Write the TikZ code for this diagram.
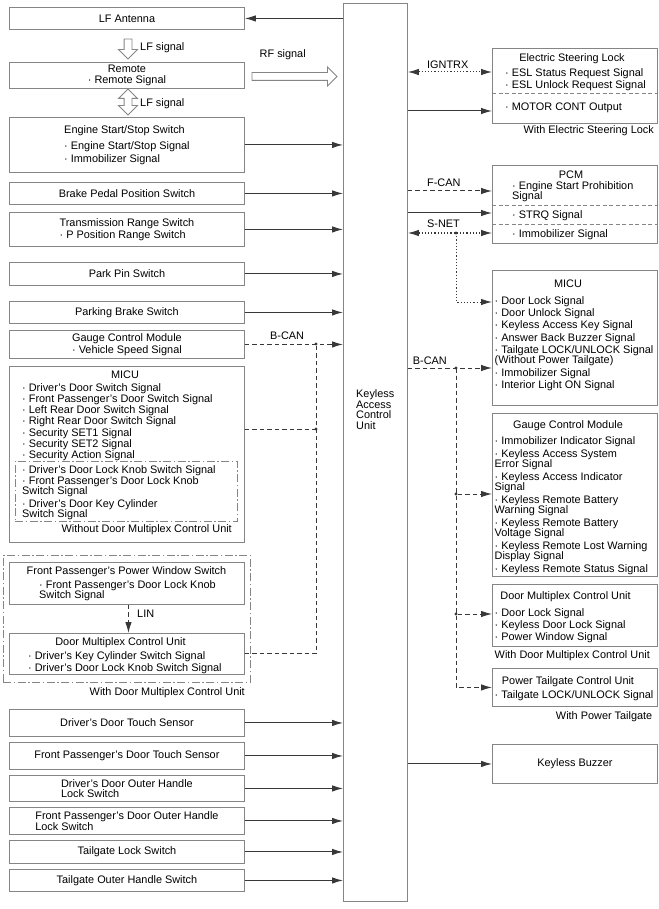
\documentclass[tikz,border=0pt]{standalone}
\usepackage{fontspec}
\setmainfont{Liberation Sans}
\usetikzlibrary{arrows.meta,shapes.arrows}
\definecolor{boxgray}{HTML}{858585}
\definecolor{linegray}{HTML}{383838}
\begin{document}
\begin{tikzpicture}[
    x=1pt, y=-1pt,
    >={Latex[length=11pt,width=6.5pt]},
    every node/.style={font=\fontsize{10.9}{10.3}\selectfont, inner sep=0pt},
    unit/.style    = {draw=boxgray, line width=0.9pt, anchor=north west, minimum height=#1},
    lbox/.style    = {unit=#1, minimum width=235pt, align=left},
    rbox/.style    = {unit=#1, minimum width=165pt},
    grp/.style     = {draw=boxgray, line width=0.9pt, anchor=north west,
                      dash pattern=on 8pt off 2.5pt on 1.5pt off 2.5pt},
    txt/.style     = {align=left},
    divider/.style = {draw=boxgray, line width=0.9pt, dash pattern=on 4pt off 2.5pt},
    hollow/.style  = {draw=boxgray, line width=0.9pt, fill=white,
                      inner xsep=0pt, inner ysep=3.5pt},
    sig/.style     = {draw=linegray, line width=1pt},
    bus/.style     = {sig, dash pattern=on 4.5pt off 3pt},
    dotline/.style = {sig, dash pattern=on 1.2pt off 2pt},
  ]
  \useasboundingbox (0,0) rectangle (658,909);

  % left column
  \node[lbox=22] (lfant) at (9,7) {LF Antenna};
  \node[lbox=26, align=center] (remote) at (9,62) {Remote\\· Remote Signal};
  \node[lbox=55] (engine) at (9,117)
    {Engine Start/Stop Switch\\[5.7pt]· Engine Start/Stop Signal\\[2.7pt]· Immobilizer Signal};
  \node[lbox=22] (brake) at (9,182) {Brake Pedal Position Switch};
  \node[lbox=34] (trans) at (9,212) {Transmission Range Switch\\[1.7pt]· P Position Range Switch};
  \node[lbox=23] (parkpin) at (9,262) {Park Pin Switch};
  \node[lbox=22] (pbrake) at (9,301) {Parking Brake Switch};
  \node[lbox=28] (gaugeL) at (9,330) {Gauge Control Module\\[1.7pt]· Vehicle Speed Signal};

  \node[lbox=176] (micuL) at (9,366) {};
  \node[txt, anchor=base] (micuL-t) at (125,378.8) {MICU};
  \node[txt, anchor=north west] (micuL-l) at (22,383.2)
    {· Driver's Door Switch Signal\\[0.9pt]· Front Passenger's Door Switch Signal\\[0.9pt]%
     · Left Rear Door Switch Signal\\[0.9pt]· Right Rear Door Switch Signal\\[0.9pt]%
     · Security SET1 Signal\\[0.9pt]· Security SET2 Signal\\[0.9pt]· Security Action Signal};
  \node[grp, minimum width=222pt, minimum height=60pt] (micuL-sub) at (15,461) {};
  \node[txt, anchor=north west] (micuL-s) at (22,465.2)
    {· Driver's Door Lock Knob Switch Signal\\[0.7pt]· Front Passenger's Door Lock Knob\\%
     Switch Signal\\[2.7pt]· Driver's Door Key Cylinder\\Switch Signal};
  \node[txt, anchor=base east] (micuL-note) at (232,532.8) {Without Door Multiplex Control Unit};

  \node[grp, minimum width=247pt, minimum height=127pt] (dmcgrp) at (3,555) {};
  \node[lbox=42] (fppw) at (9,562) {};
  \node[txt, anchor=base] (fppw-t) at (126.5,574.8) {Front Passenger's Power Window Switch};
  \node[txt, anchor=north west] (fppw-l) at (39,580.2) {· Front Passenger's Door Lock Knob\\Switch Signal};
  \node[lbox=41] (dmcuL) at (9,633) {};
  \node[txt, anchor=base] (dmcuL-t) at (120.5,645.8) {Door Multiplex Control Unit};
  \node[txt, anchor=north west] (dmcuL-l) at (28,651.2)
    {· Driver's Key Cylinder Switch Signal\\[1.7pt]· Driver's Door Lock Knob Switch Signal};
  \node[txt, anchor=base east] (dmcgrp-note) at (245,695) {With Door Multiplex Control Unit};

  \node[lbox=27] (dtouch) at (9,709) {Driver's Door Touch Sensor};
  \node[lbox=27] (ptouch) at (9,742) {Front Passenger's Door Touch Sensor};
  \node[lbox=26] (dhandle) at (9,775) {Driver's Door Outer Handle\\Lock Switch};
  \node[lbox=27] (phandle) at (9,807) {Front Passenger's Door Outer Handle\\Lock Switch};
  \node[lbox=23] (tglock) at (9,840) {Tailgate Lock Switch};
  \node[lbox=22] (tgouter) at (9,869) {Tailgate Outer Handle Switch};

  % keyless access control unit
  \node[unit=898, minimum width=64pt] (kacu) at (343,3) {};
  \node[txt, anchor=north west] (kacu-t) at (356,389.2)
    {Keyless\\[0.4pt]Access\\[0.4pt]Control\\[0.4pt]Unit};

  % right column
  \node[rbox=75] (esl) at (492,48) {};
  \node[txt, anchor=base] (esl-t) at (572,61.8) {Electric Steering Lock};
  \node[txt, anchor=north west] (esl-l) at (505,68.2)
    {· ESL Status Request Signal\\[1.7pt]· ESL Unlock Request Signal};
  \node[txt, anchor=base west] (esl-m) at (505,110.8) {· MOTOR CONT Output};
  \node[txt, anchor=base east] (esl-note) at (654,134) {With Electric Steering Lock};
  \draw[divider] (esl.west |- 0,93) -- (esl.east |- 0,93);

  \node[rbox=78] (pcm) at (492,165) {};
  \node[txt, anchor=base] (pcm-t) at (571,178.3) {PCM};
  \node[txt, anchor=north west] (pcm-l) at (512,181.2) {· Engine Start Prohibition\\Signal};
  \node[txt, anchor=base west] (pcm-m) at (512,218.8) {· STRQ Signal};
  \node[txt, anchor=base west] (pcm-n) at (512,237.8) {· Immobilizer Signal};
  \draw[divider] (pcm.west |- 0,205) -- (pcm.east |- 0,205);
  \draw[divider] (pcm.west |- 0,224) -- (pcm.east |- 0,224);

  \node[rbox=135] (micuR) at (492,270) {};
  \node[txt, anchor=base] (micuR-t) at (568,287.8) {MICU};
  \node[txt, anchor=north west] (micuR-l) at (494.5,296.2)
    {· Door Lock Signal\\[2pt]· Door Unlock Signal\\[2pt]· Keyless Access Key Signal\\[2pt]%
     · Answer Back Buzzer Signal\\[2pt]· Tailgate LOCK/UNLOCK Signal\\(Without Power Tailgate)\\[2pt]%
     · Immobilizer Signal\\[2pt]· Interior Light ON Signal};

  \node[rbox=163] (gaugeR) at (492,413) {};
  \node[txt, anchor=base] (gaugeR-t) at (568,428.8) {Gauge Control Module};
  \node[txt, anchor=north west] (gaugeR-l) at (494.5,436.2)
    {· Immobilizer Indicator Signal\\[2.4pt]· Keyless Access System\\Error Signal\\[2.4pt]%
     · Keyless Access Indicator\\Signal\\[2.4pt]· Keyless Remote Battery\\Warning Signal\\[2.4pt]%
     · Keyless Remote Battery\\Voltage Signal\\[2.4pt]· Keyless Remote Lost Warning\\Display Signal\\[2.4pt]%
     · Keyless Remote Status Signal};

  \node[rbox=62] (dmcuR) at (492,584) {};
  \node[txt, anchor=base] (dmcuR-t) at (565.5,599.8) {Door Multiplex Control Unit};
  \node[txt, anchor=north west] (dmcuR-l) at (494.5,608.3)
    {· Door Lock Signal\\[1.7pt]· Keyless Door Lock Signal\\[1.7pt]· Power Window Signal};
  \node[txt, anchor=base east] (dmcuR-note) at (650,658) {With Door Multiplex Control Unit};

  \node[rbox=38] (ptg) at (492,668) {};
  \node[txt, anchor=base] (ptg-t) at (568,684.8) {Power Tailgate Control Unit};
  \node[txt, anchor=base west] (ptg-l) at (494.5,698.8) {· Tailgate LOCK/UNLOCK Signal};
  \node[txt, anchor=base east] (ptg-note) at (652.5,719) {With Power Tailgate};

  \node[rbox=39] (buzzer) at (492,744) {Keyless Buzzer};

  % wireless signals
  \node[hollow, single arrow, rotate=-90, minimum height=20pt,
        single arrow head extend=5.5pt] (lfsig1) at (128,47) {};
  \node[hollow, double arrow, rotate=90, minimum height=26pt,
        double arrow head extend=5.5pt] (lfsig2) at (128,102) {};
  \node[hollow, single arrow, minimum height=85pt,
        single arrow head extend=5.5pt] (rfsig) at (292.5,76.5) {};
  \node[txt, anchor=base west] (lfsig1-l) at (140,50.8) {LF signal};
  \node[txt, anchor=base west] (lfsig2-l) at (140,107) {LF signal};
  \node[txt, anchor=base west] (rfsig-l) at (259.5,58) {RF signal};

  % inputs and outputs, left
  \draw[sig, ->] (kacu.west |- lfant) -- (lfant);
  \draw[sig, ->] (engine) -- (engine -| kacu.west);
  \draw[sig, ->] (brake) -- (brake -| kacu.west);
  \draw[sig, ->] (trans) -- (trans -| kacu.west);
  \draw[sig, ->] (parkpin) -- (parkpin -| kacu.west);
  \draw[sig, ->] (pbrake) -- (pbrake -| kacu.west);
  \draw[sig, ->] (dtouch) -- (dtouch -| kacu.west);
  \draw[sig, ->] (ptouch) -- (ptouch -| kacu.west);
  \draw[sig, ->] (dhandle) -- (dhandle -| kacu.west);
  \draw[sig, ->] (phandle) -- (phandle -| kacu.west);
  \draw[sig, ->] (tglock) -- (tglock -| kacu.west);
  \draw[sig, ->] (tgouter) -- (tgouter -| kacu.west);

  \coordinate (bcanL) at (316,344);
  \coordinate (micuL-o) at (micuL.east |- 0,429);
  \draw[bus, ->] (gaugeL) -- (gaugeL -| kacu.west);
  \draw[bus] (micuL-o) -- (bcanL |- micuL-o);
  \draw[bus] (dmcuL) -| (bcanL);
  \fill[linegray] (bcanL) circle (1.6pt) (bcanL |- micuL-o) circle (1.6pt);
  \node[txt, anchor=base west] (bcanL-l) at (270,339) {B-CAN};
  \draw[bus, ->] ([xshift=1.5pt]fppw.south) -- ([xshift=1.5pt]dmcuL.north);
  \node[txt, anchor=base west] (lin-l) at (137,617.5) {LIN};

  % inputs and outputs, right
  \coordinate (esl-a) at (492,72);
  \coordinate (esl-b) at (492,111);
  \coordinate (pcm-a) at (492,191);
  \coordinate (pcm-b) at (492,213);
  \coordinate (pcm-c) at (492,233);
  \coordinate (micu-a) at (492,302);
  \coordinate (micu-b) at (492,368);
  \coordinate (gauge-a) at (492,494);
  \coordinate (dmcu-a) at (492,614);
  \coordinate (snet) at (456,233);
  \coordinate (bcanR) at (456,368);

  \draw[dotline, <->] (kacu.east |- esl-a) -- (esl-a);
  \draw[sig, ->] (kacu.east |- esl-b) -- (esl-b);
  \draw[bus, ->] (kacu.east |- pcm-a) -- (pcm-a);
  \draw[sig, ->] (kacu.east |- pcm-b) -- (pcm-b);
  \draw[dotline, <->] (kacu.east |- pcm-c) -- (pcm-c);
  \draw[dotline, ->] (snet) |- (micu-a);
  \draw[bus, ->] (kacu.east |- micu-b) -- (micu-b);
  \draw[bus, ->] (bcanR) |- (gauge-a);
  \draw[bus, ->] (bcanR) |- (dmcu-a);
  \draw[bus, ->] (bcanR) |- (ptg);
  \draw[sig, ->] (buzzer -| kacu.east) -- (buzzer);
  \fill[linegray] (snet) circle (1.6pt) (bcanR) circle (1.6pt)
    (bcanR |- gauge-a) circle (1.6pt) (bcanR |- dmcu-a) circle (1.6pt);

  \node[txt, anchor=base west] (ign-l) at (427,69) {IGNTRX};
  \node[txt, anchor=base west] (fcan-l) at (427,186.5) {F-CAN};
  \node[txt, anchor=base west] (snet-l) at (427,228) {S-NET};
  \node[txt, anchor=base west] (bcanR-l) at (412.7,364) {B-CAN};
\end{tikzpicture}
\end{document}
